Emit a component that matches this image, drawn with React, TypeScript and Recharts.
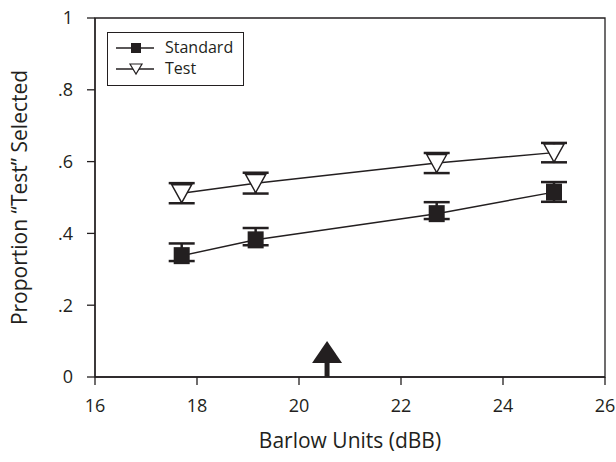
import {
  LineChart,
  Line,
  XAxis,
  YAxis,
  ErrorBar,
  ReferenceArea,
  ReferenceDot,
} from 'recharts';

// values
const barlowUnits = [17.7, 19.15, 22.7, 25.0];
const standardMeans = [0.338, 0.382, 0.455, 0.515];
const standardErrUp = [0.034, 0.033, 0.032, 0.028];
const standardErrDown = [0.015, 0.015, 0.015, 0.027];
const testMeans = [0.512, 0.54, 0.596, 0.625];
const testErrors = [0.028, 0.029, 0.028, 0.027];

const seriesNames = ['Standard', 'Test'];
const xTicks = [16, 18, 20, 22, 24, 26];
const yTicks = [0, 0.2, 0.4, 0.6, 0.8, 1];
const yTickLabels = ['0', '.2', '.4', '.6', '.8', '1'];
const arrowAt = 20.55;

const INK = '#231f20';
const FONT = '"Open Sans", "Noto Sans", sans-serif';

const data = barlowUnits.map((x, i) => ({
  x,
  standard: standardMeans[i],
  standardErr: [standardErrDown[i], standardErrUp[i]],
  test: testMeans[i],
  testErr: testErrors[i],
}));

const SquareDot = (props: any) => {
  const { cx, cy } = props;
  if (cx == null || cy == null) return null;
  return <rect key={`s-${cx}`} x={cx - 8} y={cy - 8.5} width={16} height={17} fill={INK} />;
};

const TriangleDot = (props: any) => {
  const { cx, cy } = props;
  if (cx == null || cy == null) return null;
  return (
    <polygon
      key={`t-${cx}`}
      points={`${cx - 10},${cy - 8.5} ${cx + 10},${cy - 8.5} ${cx},${cy + 9.5}`}
      fill="#fff"
      stroke={INK}
      strokeWidth={1.4}
    />
  );
};

const Arrow = (props: any) => {
  const { cx, cy } = props;
  return (
    <g>
      <rect x={cx - 2.5} y={cy - 15} width={5} height={15} fill={INK} />
      <polygon points={`${cx - 15},${cy - 14} ${cx + 15},${cy - 14} ${cx},${cy - 36}`} fill={INK} />
    </g>
  );
};

const LegendBox = () => (
  <div
    style={{
      position: 'absolute',
      left: 107,
      top: 32,
      width: 137,
      height: 54,
      boxSizing: 'border-box',
      border: `1.3px solid ${INK}`,
      background: '#fff',
      padding: '4px 0 0 8px',
      fontFamily: FONT,
      fontSize: 16,
      color: INK,
      lineHeight: '21px',
    }}
  >
    <div style={{ display: 'flex', alignItems: 'center' }}>
      <svg width={40} height={14}>
        <line x1={0} y1={7} x2={38} y2={7} stroke={INK} strokeWidth={1.5} />
        <rect x={15} y={2} width={10} height={10} fill={INK} />
      </svg>
      <span style={{ marginLeft: 9 }}>{seriesNames[0]}</span>
    </div>
    <div style={{ display: 'flex', alignItems: 'center' }}>
      <svg width={40} height={14}>
        <line x1={0} y1={7} x2={38} y2={7} stroke={INK} strokeWidth={1.5} />
        <polygon points="14,2 26,2 20,12" fill="#fff" stroke={INK} strokeWidth={1.2} />
      </svg>
      <span style={{ marginLeft: 9 }}>{seriesNames[1]}</span>
    </div>
  </div>
);

export default function App() {
  return (
    <div style={{ position: 'absolute', left: 0, top: 0, width: 616, height: 462, background: '#fff' }}>
      <LineChart width={616} height={462} data={data} margin={{ top: 18, right: 11, left: 0, bottom: 0 }}>
        <ReferenceArea x1={16} x2={26} y1={0} y2={1} fill="none" stroke={INK} strokeWidth={1.3} ifOverflow="visible" />
        <XAxis
          dataKey="x"
          type="number"
          domain={[16, 26]}
          ticks={xTicks}
          height={85}
          stroke={INK}
          strokeWidth={1.3}
          tickSize={8}
          tickMargin={14}
          tick={{ fill: INK, fontSize: 18, fontFamily: FONT }}
          label={{
            value: 'Barlow Units (dBB)',
            position: 'insideBottom',
            offset: 14,
            style: { fill: INK, fontSize: 21, fontFamily: FONT },
          }}
        />
        <YAxis
          type="number"
          domain={[0, 1]}
          ticks={yTicks}
          width={95}
          stroke={INK}
          strokeWidth={1.3}
          tickSize={8}
          tickMargin={14}
          tickFormatter={(v: number) => yTickLabels[yTicks.indexOf(v)] ?? String(v)}
          tick={{ fill: INK, fontSize: 18, fontFamily: FONT }}
          label={{
            value: 'Proportion \u201CTest\u201D Selected',
            angle: -90,
            position: 'insideLeft',
            offset: 20,
            style: { fill: INK, fontSize: 21, fontFamily: FONT, textAnchor: 'middle' },
          }}
        />
        <Line
          dataKey="standard"
          name={seriesNames[0]}
          stroke={INK}
          strokeWidth={1.5}
          dot={SquareDot}
          activeDot={false}
          isAnimationActive={false}
        >
          <ErrorBar dataKey="standardErr" direction="y" width={13} stroke={INK} strokeWidth={2.5} isAnimationActive={false} />
        </Line>
        <Line
          dataKey="test"
          name={seriesNames[1]}
          stroke={INK}
          strokeWidth={1.5}
          dot={TriangleDot}
          activeDot={false}
          isAnimationActive={false}
        >
          <ErrorBar dataKey="testErr" direction="y" width={13} stroke={INK} strokeWidth={2.5} isAnimationActive={false} />
        </Line>
        <ReferenceDot x={arrowAt} y={0} r={0} shape={Arrow} ifOverflow="visible" />
      </LineChart>
      <LegendBox />
    </div>
  );
}
